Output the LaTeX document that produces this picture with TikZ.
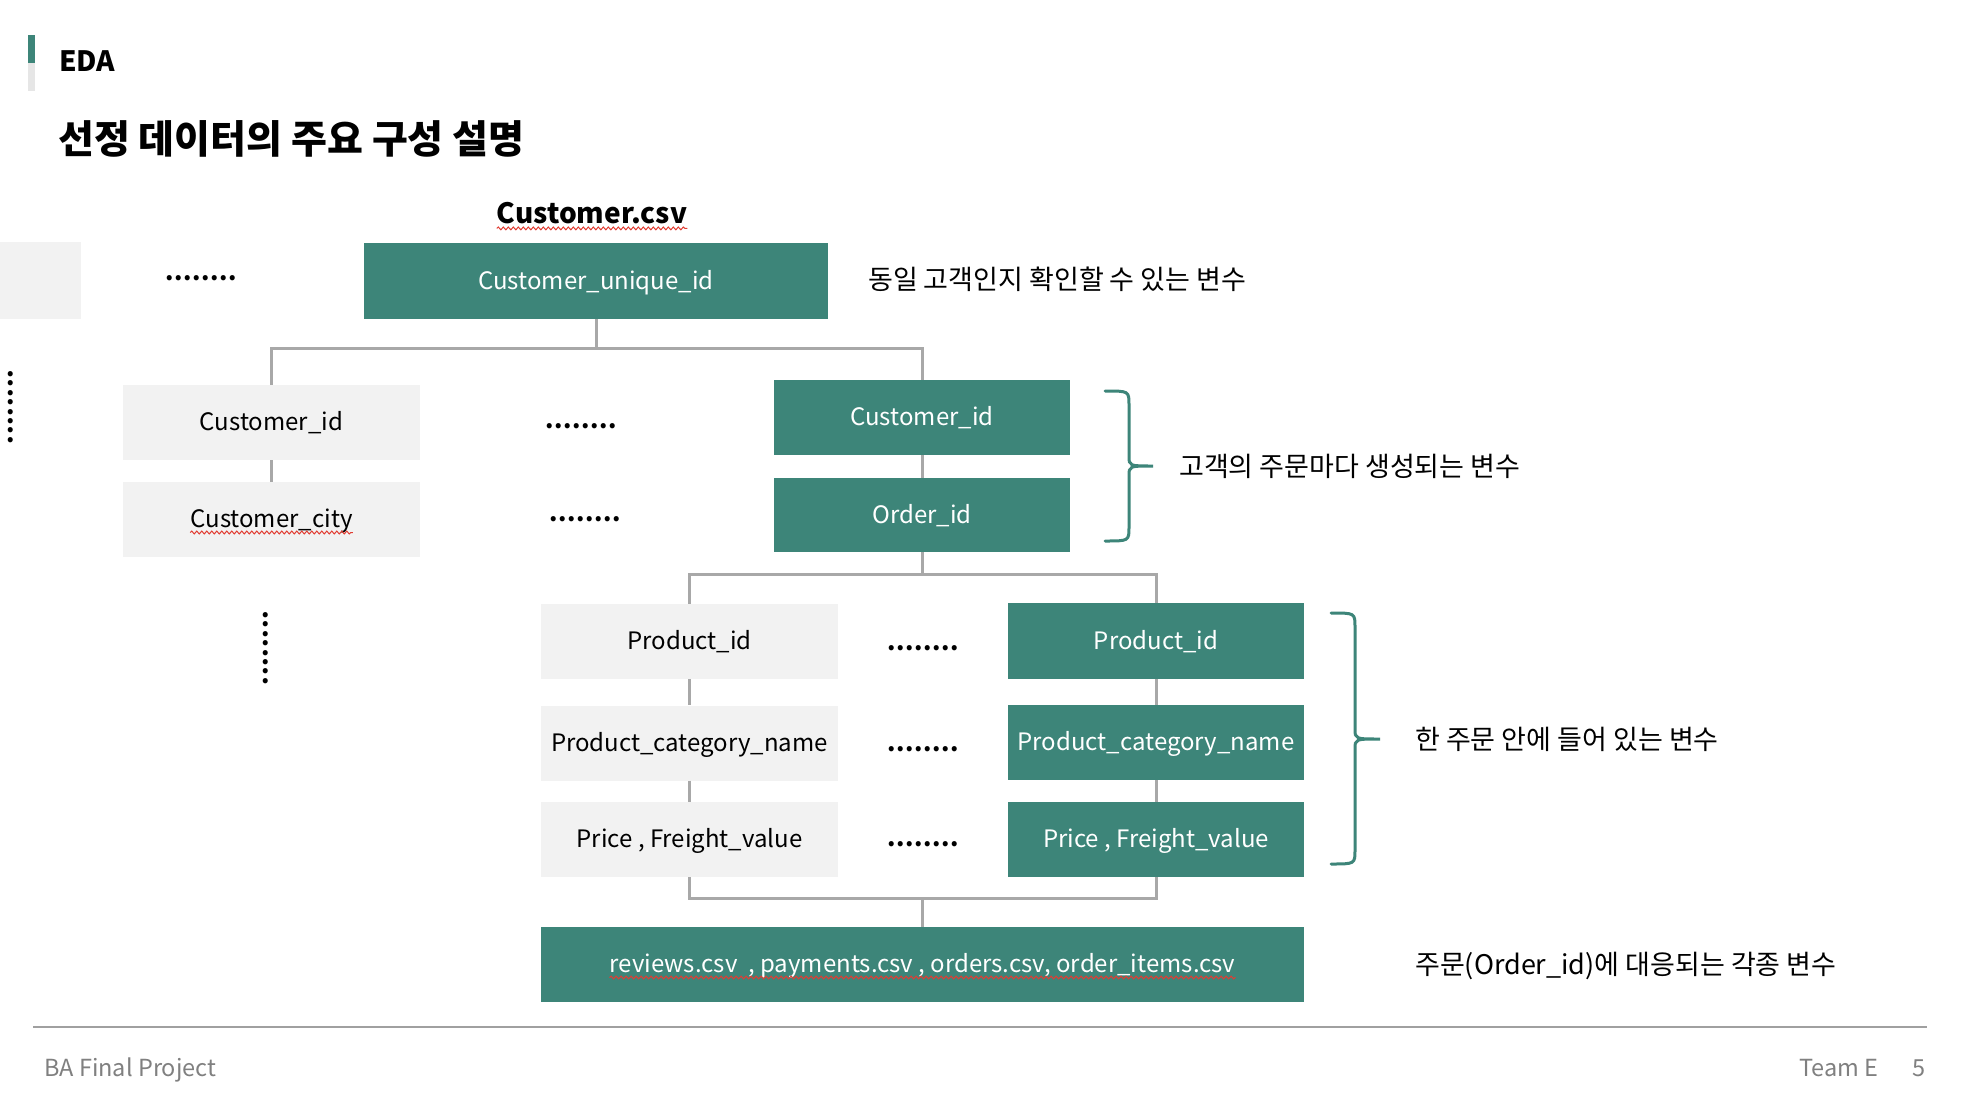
\documentclass[tikz,border=0pt]{standalone}
\usepackage{fontspec}
\setmainfont{Noto Sans CJK KR}
\usetikzlibrary{decorations.pathmorphing}

\definecolor{brandteal}{RGB}{61,133,121}
\definecolor{panelgray}{RGB}{242,242,242}
\definecolor{accentgray}{RGB}{230,230,230}
\definecolor{linkgray}{RGB}{168,168,168}
\definecolor{footgray}{RGB}{128,128,128}
\definecolor{rulegray}{RGB}{160,160,160}
\definecolor{squigred}{RGB}{225,60,50}

\newcommand\dotrow{\textbf{.\kern0.6pt.\kern0.6pt.\kern0.6pt.\kern0.6pt.\kern0.6pt.\kern0.6pt.\kern0.6pt.}}
\newcommand\dotcol{\textbf{.}\\\textbf{.}\\\textbf{.}\\\textbf{.}\\\textbf{.}\\\textbf{.}\\\textbf{.}\\\textbf{.}}
\newcommand\boxfont{\fontsize{24}{29}\selectfont}
\newcommand\notefont{\fontsize{27}{32}\selectfont}
\newcommand\footfont{\fontsize{23.5}{27}\selectfont}
\newlength\wA \newlength\wB \newlength\wC
\newlength\wD \newlength\wE \newlength\wF

\begin{document}
\begin{tikzpicture}[x=1pt,y=-1pt,
  boxtext/.style={font=\boxfont, text height=17pt, text depth=1pt},
  tealbox/.style={boxtext, fill=brandteal, text=white, inner sep=0pt,
    minimum width=296pt, minimum height=75pt},
  graybox/.style={boxtext, fill=panelgray, text=black, inner sep=0pt,
    minimum width=297pt, minimum height=75pt},
  link/.style={draw=linkgray, line width=3pt},
  bracket/.style={draw=brandteal, line width=3pt, line cap=round},
  note/.style={font=\notefont, anchor=west, inner sep=0pt},
  dots/.style={font=\boxfont, inner sep=0pt},
  vdots/.style={font=\fontsize{24}{9.4}\selectfont, align=center, inner sep=0pt},
  foot/.style={anchor=base west, inner sep=0pt, text=footgray, font=\footfont},
  squig/.style={draw=squigred, line width=1pt, decorate,
    decoration={snake, amplitude=1.4pt, segment length=5pt}}]

\useasboundingbox (0,0) rectangle (1964,1100);
\fill[white] (0,0) rectangle (1964,1100);

% header
\fill[brandteal] (28,35) rectangle (35,63);
\fill[accentgray] (28,63) rectangle (35,91);
\node[anchor=west, inner sep=0pt, font=\fontsize{28}{32}\selectfont\bfseries] (eda) at (59,61) {EDA};
\node[anchor=west, inner sep=0pt, font=\fontsize{39}{44}\selectfont\bfseries] (title) at (58,139) {선정 데이터의 주요 구성 설명};

% customer table
\node[inner sep=0pt, font=\fontsize{28}{32}\selectfont\bfseries] (csvname) at (592,213) {Customer.csv};
\draw[squig] ([yshift=-5pt]csvname.base west) -- ([yshift=-5pt]csvname.base east);

\fill[panelgray] (0,242) rectangle (81,319);
\node[dots] (d0) at (201,278) {\dotrow};
\node[tealbox, minimum width=464pt, minimum height=76pt] (cui) at (596,281) {Customer\_unique\_id};
\node[note] (n1) at (868,279) {동일 고객인지 확인할 수 있는 변수};

\node[vdots] (v1) at (11,407) {\dotcol};

\node[graybox] (gcid) at (271.5,422.5) {Customer\_id};
\node[graybox] (gcity) at (271.5,519.5) {};
\node[boxtext, inner sep=0pt] (citytext) at (gcity.center) {Customer\_city};
\draw[squig] ([yshift=-5pt]citytext.base west) -- ([yshift=-5pt]citytext.base east);

\node[dots] (d1) at (581,426) {\dotrow};
\node[dots] (d2) at (585,519) {\dotrow};

\node[tealbox] (tcid) at (922,417.5) {Customer\_id};
\node[tealbox, minimum height=74pt] (oid) at (922,515) {Order\_id};

\coordinate (j1) at (597,348);
\draw[link] (cui.south) -- (cui.south |- j1);
\draw[link] (gcid.north) -- (gcid.north |- j1) -- (tcid.north |- j1) -- (tcid.north);
\draw[link] (gcid.south) -- (gcity.north);
\draw[link] (tcid.south) -- (oid.north);

\draw[bracket] (1105,391) .. controls (1129,391) .. (1129,405) -- (1129,456)
  .. controls (1129,466) .. (1153,466) .. controls (1129,466) .. (1129,476)
  -- (1129,527) .. controls (1129,541) .. (1105,541);
\node[note] (n2) at (1179,466) {고객의 주문마다 생성되는 변수};

% order items table
\node[vdots] (v2) at (266,648) {\dotcol};

\node[graybox] (gpid) at (689.5,641.5) {Product\_id};
\node[graybox] (gpcn) at (689.5,743) {Product\_category\_name};
\node[graybox] (gpfv) at (689.5,839.5) {Price , Freight\_value};

\node[dots] (d3) at (923,648) {\dotrow};
\node[dots] (d4) at (923,749) {\dotrow};
\node[dots] (d5) at (923,844) {\dotrow};

\node[tealbox, minimum height=76pt] (tpid) at (1156,641) {Product\_id};
\node[tealbox] (tpcn) at (1156,742.5) {Product\_category\_name};
\node[tealbox] (tpfv) at (1156,839.5) {Price , Freight\_value};

\coordinate (j2) at (922,574);
\draw[link] (oid.south) -- (oid.south |- j2);
\draw[link] (gpid.north) -- (gpid.north |- j2) -- (tpid.north |- j2) -- (tpid.north);
\draw[link] (gpid.south) -- (gpcn.north);
\draw[link] (gpcn.south) -- (gpfv.north);
\draw[link] (tpid.south) -- (tpcn.north);
\draw[link] (tpcn.south) -- (tpfv.north);

\draw[bracket] (1331,613) .. controls (1355,613) .. (1355,627) -- (1355,729)
  .. controls (1355,739) .. (1380,739) .. controls (1355,739) .. (1355,749)
  -- (1355,850) .. controls (1355,864) .. (1331,864);
\node[note] (n3) at (1415,739) {한 주문 안에 들어 있는 변수};

% related files
\node[tealbox, minimum width=763pt] (files) at (922.5,964.5) {};
\settowidth{\wA}{\boxfont reviews.csv}
\settowidth{\wB}{\boxfont reviews.csv\ \ , }
\settowidth{\wC}{\boxfont reviews.csv\ \ , payments.csv}
\settowidth{\wD}{\boxfont reviews.csv\ \ , payments.csv , }
\settowidth{\wE}{\boxfont reviews.csv\ \ , payments.csv , orders.csv}
\settowidth{\wF}{\boxfont reviews.csv\ \ , payments.csv , orders.csv, }
\node[boxtext, text=white, inner sep=0pt] (ftext) at (files.center)
  {reviews.csv\ \ , payments.csv , orders.csv, order\_items.csv};
\draw[squig] ([yshift=-5pt]ftext.base west) -- ([xshift=\wA,yshift=-5pt]ftext.base west);
\draw[squig] ([xshift=\wB,yshift=-5pt]ftext.base west) -- ([xshift=\wC,yshift=-5pt]ftext.base west);
\draw[squig] ([xshift=\wD,yshift=-5pt]ftext.base west) -- ([xshift=\wE,yshift=-5pt]ftext.base west);
\draw[squig] ([xshift=\wF,yshift=-5pt]ftext.base west) -- ([yshift=-5pt]ftext.base east);

\coordinate (j3) at (922,898);
\draw[link] (gpfv.south) -- (gpfv.south |- j3) -- (tpfv.south |- j3) -- (tpfv.south);
\draw[link] (files.north |- j3) -- (files.north);
\node[note] (n4) at (1415,966) {주문(Order\_id)에 대응되는 각종 변수};

% footer
\draw[draw=rulegray, line width=2.5pt] (33,1027) -- (1927,1027);
\node[foot] (proj) at (44,1076) {BA Final Project};
\node[foot] (team) at (1799,1076) {Team E};
\node[foot] (page) at (1912,1076) {5};
\end{tikzpicture}
\end{document}
